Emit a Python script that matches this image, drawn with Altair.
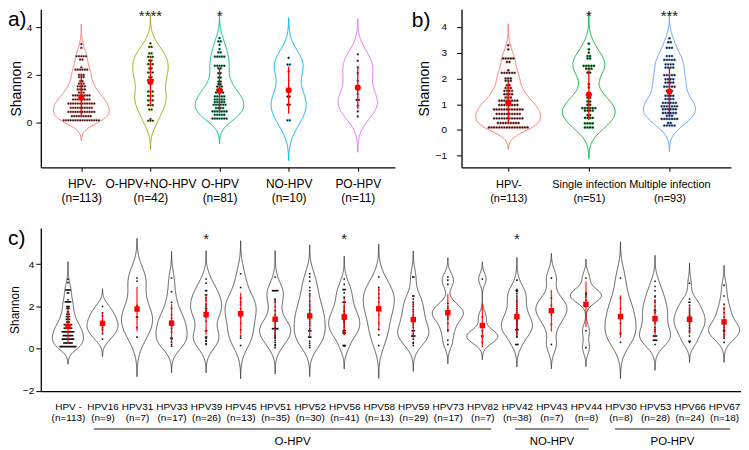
import json
import numpy as np
import pandas as pd
import altair as alt

FONT = "Liberation Sans"

# ---------------- panel a / b data: dot-plot rows (level, number of dots) ----------------
HPVNEG_LEVELS = [3.29, 3.13, 2.78, 2.64, 2.32, 2.22, 2.00, 1.91, 1.74, 1.63, 1.52, 1.39, 1.26, 1.14, 0.97, 0.80, 0.62, 0.45, 0.27, 0.10]
HPVNEG_COUNTS = [1, 1, 5, 2, 1, 6, 3, 3, 2, 3, 4, 4, 3, 8, 8, 12, 10, 12, 9, 16]

ONO_LEVELS = [3.32, 3.17, 2.90, 2.75, 2.60, 2.45, 2.27, 2.10, 1.90, 1.78, 1.68, 1.30, 1.12, 0.93, 0.73, 0.55, 0.15, 0.08]
ONO_COUNTS = [1, 2, 2, 3, 2, 3, 2, 3, 2, 3, 1, 3, 3, 3, 3, 2, 1, 3]

OHPV_LEVELS = [3.54, 3.40, 3.26, 3.08, 2.94, 2.76, 2.38, 2.27, 2.07, 1.89, 1.72, 1.61, 1.51, 1.37, 1.26, 1.10, 0.97, 0.86, 0.75, 0.61, 0.47, 0.33, 0.17]
OHPV_COUNTS = [1, 2, 1, 1, 2, 5, 5, 2, 2, 2, 2, 2, 3, 3, 4, 5, 5, 5, 6, 4, 7, 5, 7]

NOHPV_LEVELS = [2.71, 2.43, 2.14, 1.09, 0.75, 0.10]
NOHPV_COUNTS = [1, 2, 1, 2, 2, 2]

POHPV_LEVELS = [2.86, 2.59, 2.31, 2.08, 1.75, 1.20, 0.95, 0.71, 0.47, 0.26]
POHPV_COUNTS = [1, 1, 1, 1, 1, 1, 2, 1, 1, 1]

SINGLE_LEVELS = [3.35, 3.13, 3.00, 2.87, 2.78, 2.49, 2.38, 2.23, 1.78, 1.65, 1.39, 1.25, 1.11, 0.98, 0.85, 0.75, 0.58, 0.47, 0.26, 0.10]
SINGLE_COUNTS = [1, 1, 1, 2, 2, 5, 3, 2, 1, 1, 2, 2, 2, 2, 6, 4, 2, 4, 4, 4]

MULTI_LEVELS = [3.56, 3.41, 3.19, 2.87, 2.72, 2.55, 2.42, 2.13, 1.97, 1.84, 1.68, 1.52, 1.33, 1.20, 1.05, 0.92, 0.81, 0.66, 0.55, 0.43, 0.27, 0.17]
MULTI_COUNTS = [1, 2, 3, 3, 5, 4, 4, 5, 4, 4, 5, 3, 4, 4, 6, 7, 6, 6, 3, 7, 2, 5]

A_GROUPS = ["HPV-", "O-HPV+NO-HPV", "O-HPV", "NO-HPV", "PO-HPV"]
A_N = ["(n=113)", "(n=42)", "(n=81)", "(n=10)", "(n=11)"]
A_COLORS = ["#F8766D", "#A3A500", "#00BF7D", "#00B0F6", "#E76BF3"]
A_STARS = ["", "****", "*", "", ""]
A_YTICKS = [0, 2, 4]

B_GROUPS = ["HPV-", "Single infection", "Multiple infection"]
B_N = ["(n=113)", "(n=51)", "(n=93)"]
B_COLORS = ["#F8766D", "#00BA38", "#619CFF"]
B_STARS = ["", "*", "***"]
B_YTICKS = [-1, 0, 1, 2, 3, 4]

# ---------------- panel c data: Shannon values per HPV type ----------------
C_HPV16 = [2.00, 1.70, 1.55, 1.30, 1.20, 1.00, 0.90, 0.70, 0.45]
C_HPV31 = [3.35, 3.20, 2.05, 1.50, 1.50, 1.00, 0.55]
C_HPV33 = [3.35, 2.70, 2.20, 1.90, 1.60, 1.45, 1.30, 1.20, 1.05, 0.95, 0.80, 0.50, 0.50, 0.45, 0.30, 0.20, 0.12]
C_HPV39 = [3.30, 3.10, 2.75, 2.75, 2.55, 2.55, 2.40, 2.30, 2.10, 2.00, 1.90, 1.90, 1.80, 1.75, 1.60, 1.50, 1.30,
           0.85, 0.85, 0.55, 0.55, 0.50, 0.40, 0.35, 0.25, 0.20]
C_HPV45 = [3.55, 2.90, 2.20, 2.40, 2.10, 1.90, 1.70, 1.50, 1.20, 0.90, 0.60, 0.50, 0.15]
C_HPV51 = [3.40, 2.75, 2.75, 2.75, 2.75, 2.75, 2.75, 2.35, 2.30, 2.20, 2.00, 1.80, 1.60, 1.45, 1.30, 1.20, 1.10, 1.00,
           0.95, 0.95, 0.95, 0.95, 0.95, 0.95, 0.85, 0.75, 0.65, 0.60, 0.55, 0.50, 0.40, 0.30, 0.20, 0.15, 0.05]
C_HPV52 = [3.55, 3.40, 3.20, 2.90, 2.75, 2.60, 2.50, 2.25, 2.10, 2.00, 1.85, 1.80, 1.70, 1.60, 1.50, 1.40, 1.30, 1.20,
           1.10, 0.95, 0.85, 0.85, 0.85, 0.55, 0.55, 0.55, 0.35, 0.25, 0.15, 0.05]
C_HPV56 = [3.30, 3.05, 2.80, 2.80, 2.80, 2.65, 2.45, 2.40, 2.20, 2.20, 2.20, 2.00, 1.90, 1.80, 1.75, 1.65, 1.60, 1.55,
           1.50, 1.40, 1.40, 1.40, 1.35, 1.30, 1.25, 1.20, 1.10, 1.00, 0.90, 0.85, 0.85, 0.85, 0.80, 0.75, 0.75, 0.75,
           0.70, 0.15, 0.15, 0.15, 0.12]
C_HPV58 = [3.40, 2.80, 2.90, 2.60, 2.40, 2.20, 2.00, 1.80, 1.60, 1.20, 0.90, 0.65, 0.15]
C_HPV59 = [3.40, 3.40, 2.50, 2.50, 2.35, 2.20, 2.10, 2.00, 1.85, 1.75, 1.60, 1.50, 1.45, 1.30, 1.20, 1.10, 1.00, 0.85,
           0.85, 0.85, 0.70, 0.60, 0.60, 0.60, 0.60, 0.45, 0.30, 0.25, 0.15]
C_HPV73 = [3.40, 3.25, 3.05, 2.15, 2.00, 1.90, 1.80, 1.70, 1.65, 1.60, 1.50, 1.40, 1.20, 0.90, 0.85, 0.40, 0.20]
C_HPV82 = [3.30, 1.50, 0.85, 0.60, 0.60, 0.55, 0.30]
C_HPV42 = [3.25, 2.80, 2.75, 2.75, 2.70, 2.60, 2.50, 2.40, 2.30, 2.20, 2.10, 2.00, 1.90, 1.80, 1.70, 1.60, 1.50, 1.45,
           1.40, 1.30, 1.20, 1.10, 1.00, 0.95, 0.90, 0.90, 0.90, 0.85, 0.75, 0.70, 0.60, 0.55, 1.15, 1.25, 1.35, 0.20,
           0.20, 0.20]
C_HPV43 = [3.35, 2.40, 2.05, 1.85, 1.60, 1.15, 0.20]
C_HPV44 = [3.35, 2.65, 2.60, 2.55, 2.45, 2.30, 0.85, 0.05]
C_HPV30 = [3.35, 2.40, 1.90, 1.60, 1.20, 0.75, 0.70, 0.30]
C_HPV53 = [3.20, 2.95, 2.75, 2.50, 2.45, 2.30, 2.20, 2.00, 1.85, 1.80, 1.80, 1.70, 1.50, 1.40, 1.30, 1.20, 1.00, 0.90,
           0.80, 0.60, 0.60, 0.60, 0.60, 0.40, 0.40, 0.40, 0.40, 0.20]
C_HPV66 = [3.10, 2.20, 2.35, 2.20, 2.05, 1.90, 1.80, 1.70, 1.60, 1.55, 1.50, 1.40, 1.35, 1.25, 1.20, 1.10, 1.00, 0.95,
           0.85, 0.80, 0.60, 0.35, 0.35, 0.30]
C_HPV67 = [3.00, 2.50, 2.10, 1.90, 1.70, 1.50, 1.35, 1.20, 1.10, 1.00, 0.90, 0.85, 0.85, 0.80, 0.70, 0.60, 0.50, 0.30]

C_GROUPS = ["HPV -", "HPV16", "HPV31", "HPV33", "HPV39", "HPV45", "HPV51", "HPV52", "HPV56", "HPV58", "HPV59",
            "HPV73", "HPV82", "HPV42", "HPV43", "HPV44", "HPV30", "HPV53", "HPV66", "HPV67"]
C_N = ["(n=113)", "(n=9)", "(n=7)", "(n=17)", "(n=26)", "(n=13)", "(n=35)", "(n=30)", "(n=41)", "(n=13)", "(n=29)",
       "(n=17)", "(n=7)", "(n=38)", "(n=7)", "(n=8)", "(n=8)", "(n=28)", "(n=24)", "(n=18)"]
C_STARS = ["", "", "", "", "*", "", "", "", "*", "", "", "", "", "*", "", "", "", "", "", ""]
C_YTICKS = [-2, 0, 2, 4]

BRACKET_NAMES = ["O-HPV", "NO-HPV", "PO-HPV"]
BRACKET_START = [0.75, 12.95, 15.84]
BRACKET_END = [12.26, 15.08, 19.17]


def expand(levels, counts):
    out = []
    for v, c in zip(levels, counts):
        out.extend([v] * c)
    return out


HPVNEG = expand(HPVNEG_LEVELS, HPVNEG_COUNTS)
A_VALUES = [HPVNEG, expand(ONO_LEVELS, ONO_COUNTS), expand(OHPV_LEVELS, OHPV_COUNTS),
            expand(NOHPV_LEVELS, NOHPV_COUNTS), expand(POHPV_LEVELS, POHPV_COUNTS)]
B_VALUES = [HPVNEG, expand(SINGLE_LEVELS, SINGLE_COUNTS), expand(MULTI_LEVELS, MULTI_COUNTS)]
C_VALUES = [HPVNEG, C_HPV16, C_HPV31, C_HPV33, C_HPV39, C_HPV45, C_HPV51, C_HPV52, C_HPV56, C_HPV58, C_HPV59,
            C_HPV73, C_HPV82, C_HPV42, C_HPV43, C_HPV44, C_HPV30, C_HPV53, C_HPV66, C_HPV67]


def nrd0(vals):
    a = np.asarray(vals, dtype=float)
    sd = a.std(ddof=1)
    q75, q25 = np.percentile(a, [75, 25])
    lo = min(sd, (q75 - q25) / 1.34)
    if lo <= 0:
        lo = sd if sd > 0 else 1.0
    return 0.9 * lo * len(a) ** -0.2


def make_df(groups, values, colors):
    rows = []
    for i, (g, vals) in enumerate(zip(groups, values)):
        col = colors[i] if colors else "#111111"
        for v in vals:
            rows.append({"idx": i, "group": g, "value": float(v), "col": col})
    return pd.DataFrame(rows)


def panel(groups, ns, values, stars, colors, st):
    df = make_df(groups, values, colors)
    xscale = alt.Scale(domain=st["xdom"], nice=False, zero=False)
    yscale = alt.Scale(domain=st["ydom"], nice=False, zero=False)
    label_arr = json.dumps([[g, n] for g, n in zip(groups, ns)])
    xaxis = alt.Axis(values=list(range(len(groups))), labelExpr=f"{label_arr}[datum.value]", title=None,
                     labelFontSize=st["cat_font"], labelLineHeight=st["cat_lh"], labelFlush=False,
                     labelOverlap=False, ticks=st["xticks"], tickSize=st["xtick_size"],
                     labelPadding=st["xlabel_pad"], domainWidth=1.3, labelBaseline="top", minExtent=0)
    yaxis = alt.Axis(values=st["yticks"], title="Shannon", titleFontSize=st["title_font"],
                     labelFontSize=st["tick_font"], tickSize=5, labelPadding=st["ylabel_pad"],
                     titlePadding=st["title_pad"], domainWidth=1.3, format="d", minExtent=0)

    def X(f):
        return alt.X(f + ":Q", scale=xscale, axis=xaxis)

    def Y(f):
        return alt.Y(f + ":Q", scale=yscale, axis=yaxis)

    layers = []
    # violins (one density per group, bandwidth like R's default)
    for i, vals in enumerate(values):
        bw = nrd0(vals)
        ext = [min(vals) - 3 * bw, max(vals) + 3 * bw]
        c = alt.Chart(df).transform_filter(f"datum.idx == {i}").transform_density(
            "value", as_=["v", "density"], bandwidth=bw, extent=ext, steps=200)
        if st["mode"] == "width":
            c = c.transform_joinaggregate(maxd="max(density)").transform_calculate(
                hw="0.45 * datum.density / datum.maxd")
        else:
            c = c.transform_calculate(hw=f"{st['k']} * datum.density")
        c = c.transform_calculate(xl=f"{i} - datum.hw", xr=f"{i} + datum.hw")
        vcol = colors[i] if colors else st["vio_color"]
        layers.append(c.mark_area(orient="horizontal", fillOpacity=0, stroke=vcol,
                                  strokeWidth=st["vio_sw"], clip=True).encode(
            y=Y("v"), x=X("xl"), x2=alt.X2("xr")))

    # dots (dot-plot rows centred on the group)
    dots = alt.Chart(df).transform_joinaggregate(
        cnt="count()", groupby=["idx", "value"]
    ).transform_window(
        rk="row_number()", groupby=["idx", "value"]
    ).transform_calculate(
        xo=f"datum.idx + (datum.rk - (datum.cnt + 1) / 2) * {st['dot_sp']}"
    )
    if colors:
        layers.append(dots.mark_point(shape="circle", fill="#111111", fillOpacity=1, opacity=1,
                                      size=st["dot_size"], strokeWidth=0.4).encode(
            x=X("xo"), y=Y("value"), stroke=alt.Stroke("col:N", scale=None)))
    else:
        layers.append(dots.mark_square(color="#111111", size=st["dot_size"], opacity=1).encode(
            x=X("xo"), y=Y("value")))

    # mean +/- sd
    stats = alt.Chart(df).transform_aggregate(
        m="mean(value)", s="stdev(value)", groupby=["idx"]
    ).transform_calculate(lo="datum.m - datum.s", hi="datum.m + datum.s")
    layers.append(stats.mark_rule(color="red", strokeWidth=st["rule_w"], opacity=st["rule_op"]).encode(
        x=X("idx"), y=Y("lo"), y2=alt.Y2("hi")))
    layers.append(stats.mark_point(shape=st["mean_shape"], filled=True, color="red", opacity=1,
                                   size=st["mean_size"]).encode(x=X("idx"), y=Y("m")))

    # significance stars
    sdf = pd.DataFrame({"idx": list(range(len(groups))), "star": stars})
    layers.append(alt.Chart(sdf).transform_filter("datum.star != ''").mark_text(
        fontSize=st["star_font"], baseline="top", font=FONT, color="#222222").encode(
        x=X("idx"), y=alt.value(st["star_y"]), text="star:N"))

    # panel letter
    layers.append(alt.Chart(pd.DataFrame({"t": [st["letter"]]})).mark_text(
        fontSize=21, align="left", baseline="top", font=FONT, color="black").encode(
        x=alt.value(st["letter_x"]), y=alt.value(st["letter_y"]), text="t:N"))

    if st.get("brackets"):
        bdf = pd.DataFrame({"name": BRACKET_NAMES, "start": BRACKET_START, "end": BRACKET_END})
        bb = alt.Chart(bdf).transform_calculate(mid="(datum.start + datum.end) / 2")
        layers.append(bb.mark_rule(color="#8c8c8c", strokeWidth=2).encode(
            x=X("start"), x2=alt.X2("end"), y=alt.value(st["h"] + 38)))
        layers.append(bb.mark_text(fontSize=11.5, baseline="middle", font=FONT, color="black").encode(
            x=X("mid"), y=alt.value(st["h"] + 51), text="name:N"))

    return alt.layer(*layers).properties(width=st["w"], height=st["h"])


STYLE_A = dict(w=356, h=159, xdom=[-0.586, 4.537], ydom=[-1.87, 4.75], yticks=A_YTICKS, mode="area", k=0.75,
               vio_sw=1.0, dot_sp=0.034, dot_size=5, mean_shape="circle", mean_size=38, rule_w=1.3, rule_op=1,
               cat_font=12, cat_lh=14, tick_font=10, title_font=14, ylabel_pad=4, title_pad=3,
               xticks=True, xtick_size=4, xlabel_pad=7, star_y=0, star_font=15,
               letter="a)", letter_x=-33, letter_y=0)
STYLE_B = dict(w=271, h=159, xdom=[-0.58, 2.765], ydom=[-1.45, 4.69], yticks=B_YTICKS, mode="area", k=0.75,
               vio_sw=1.0, dot_sp=0.032, dot_size=5.5, mean_shape="circle", mean_size=38, rule_w=1.3, rule_op=1,
               cat_font=11, cat_lh=14, tick_font=10, title_font=14, ylabel_pad=10, title_pad=4,
               xticks=True, xtick_size=4, xlabel_pad=7, star_y=0, star_font=15,
               letter="b)", letter_x=-50, letter_y=1)
STYLE_C = dict(w=704, h=164, xdom=[-0.786, 19.49], ydom=[-2.01, 5.72], yticks=C_YTICKS, mode="width",
               vio_color="#333333", vio_sw=0.8, dot_sp=0.03, dot_size=2.5, mean_shape="square", mean_size=30,
               rule_w=1.3, rule_op=0.85, cat_font=10, cat_lh=12, tick_font=10, title_font=12, ylabel_pad=2,
               title_pad=1, xticks=False, xtick_size=0, xlabel_pad=10, star_y=4, star_font=15,
               letter="c)", letter_x=-33, letter_y=0, brackets=True)

pa = panel(A_GROUPS, A_N, A_VALUES, A_STARS, A_COLORS, STYLE_A)
pb = panel(B_GROUPS, B_N, B_VALUES, B_STARS, B_COLORS, STYLE_B)
pc = panel(C_GROUPS, C_N, C_VALUES, C_STARS, None, STYLE_C)

row1 = alt.ConcatChart(concat=[pa, pb], columns=2, align="none", spacing=17)
chart = alt.ConcatChart(concat=[row1, pc], columns=1, align="none", spacing=25).properties(
    padding=0
).configure_view(stroke=None).configure_axis(
    grid=False, domainColor="black", tickColor="black", labelColor="black", titleColor="black",
    labelFont=FONT, titleFont=FONT, titleFontWeight="normal"
).configure_text(font=FONT)

chart.save("out.html", embed_options={"renderer": "svg", "actions": False})
